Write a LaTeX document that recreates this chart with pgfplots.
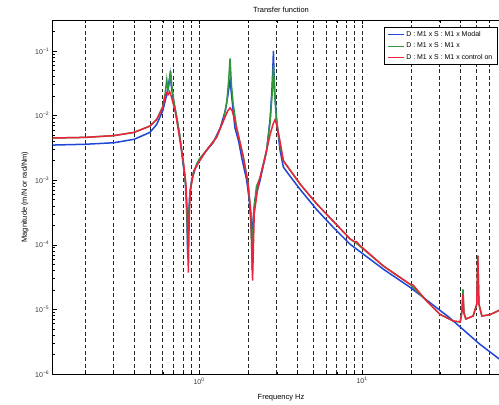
\documentclass[border=0pt]{standalone}
\usepackage{fontspec}
\setmainfont{Liberation Sans}
\usepackage{pgfplots}
\pgfplotsset{compat=1.18}
\definecolor{cblue}{RGB}{30,70,215}
\definecolor{cgreen}{RGB}{50,150,60}
\definecolor{cred}{RGB}{235,35,60}
\begin{document}
\begin{tikzpicture}
\path[use as bounding box] (-52.7bp,-31bp) rectangle (446.3bp,374bp);
\begin{loglogaxis}[
  at={(0,0)}, anchor=south west,
  scale only axis, width=456.6bp, height=354bp,
  xmin=0.1266, xmax=80, ymin=1e-6, ymax=0.302,
  xtick={1,10}, xticklabels={10\textsuperscript{0},10\textsuperscript{1}},
  minor xtick={0.2,0.3,0.4,0.5,0.6,0.7,0.8,0.9,2,3,4,5,6,7,8,9,20,30,40,50,60,70},
  ytick={1e-6,1e-5,1e-4,1e-3,1e-2,1e-1},
  yticklabels={10\textsuperscript{−6},10\textsuperscript{−5},10\textsuperscript{−4},10\textsuperscript{−3},10\textsuperscript{−2},10\textsuperscript{−1}},
  minor ytick={2e-6,3e-6,4e-6,5e-6,6e-6,7e-6,8e-6,9e-6,
               2e-5,3e-5,4e-5,5e-5,6e-5,7e-5,8e-5,9e-5,
               2e-4,3e-4,4e-4,5e-4,6e-4,7e-4,8e-4,9e-4,
               2e-3,3e-3,4e-3,5e-3,6e-3,7e-3,8e-3,9e-3,
               2e-2,3e-2,4e-2,5e-2,6e-2,7e-2,8e-2,9e-2,
               2e-1,3e-1},
  xmajorgrids, xminorgrids,
  major grid style={black!85, line width=0.8bp, dash pattern=on 3.8bp off 2.6bp},
  minor grid style={black!85, line width=0.8bp, dash pattern=on 3.8bp off 2.6bp},
  major tick length=4bp, minor tick length=2.5bp,
  tick style={black, line width=0.6bp},
  axis line style={line width=1bp},
  tick label style={font=\fontsize{7}{8}\selectfont, text=black!80},
  title={Transfer function},
  xlabel={Frequency Hz},
  ylabel={Magnitude (m/N or rad/Nm)},
  every axis title/.style={at={([yshift=10bp]axis description cs:0.5,1)}, anchor=center, font=\fontsize{7.5}{8}\selectfont},
  every axis x label/.style={at={([yshift=-24bp]axis description cs:0.5,0)}, anchor=center, font=\fontsize{7.5}{8}\selectfont},
  every axis y label/.style={at={([xshift=-27.7bp]axis description cs:0,0.5)}, rotate=90, anchor=center, font=\fontsize{7.5}{8}\selectfont},
  legend cell align=left,
  legend image code/.code={\draw[#1, line width=1.1bp] (0bp,0bp) -- (16bp,0bp);},
  legend style={at={(rel axis cs:0.9746,0.980)}, anchor=north east,
    font=\fontsize{7}{8}\selectfont, draw=black, line width=0.7bp,
    inner xsep=3bp, inner ysep=2bp, row sep=1bp},
]
\addplot[cblue, line width=1.5bp] coordinates {
(0.1266,3.5e-3)(0.2,3.6e-3)(0.3,3.8e-3)(0.4,4.3e-3)(0.5,5.5e-3)(0.55,7.3e-3)
(0.6,0.012)(0.63,0.02)(0.65,0.03)(0.665,0.044)(0.675,0.03)(0.69,0.02)(0.71,0.013)
(0.73,9.3e-3)(0.76,5e-3)(0.78,2.9e-3)(0.80,1.7e-3)(0.82,1.1e-3)(0.835,5e-4)
(0.845,2e-4)(0.852,7e-5)(0.86,2e-4)(0.875,5.5e-4)(0.90,1.0e-3)(0.97,1.8e-3)
(1.06,2.5e-3)(1.22,3.8e-3)(1.35,6.5e-3)(1.45,0.012)(1.50,0.02)(1.535,0.03)
(1.55,0.036)(1.565,0.028)(1.60,0.016)(1.66,6.5e-3)(1.75,4e-3)(1.83,2.2e-3)
(1.96,1.0e-3)(2.03,5e-4)(2.08,2.2e-4)(2.11,1.2e-4)(2.14,2.2e-4)(2.2,5e-4)
(2.37,1.0e-3)(2.6,2.9e-3)(2.73,9e-3)(2.80,0.025)(2.84,0.06)(2.86,0.1)(2.88,0.05)
(2.92,0.02)(3.0,8e-3)(3.14,2.9e-3)(3.29,1.6e-3)(3.6,1.17e-3)(4.17,7.2e-4)
(5.27,3.5e-4)(6.67,1.85e-4)(8.45,1.02e-4)(13.5,4.2e-5)(19.7,2.2e-5)(34.5,7.4e-6)
(52.7,2.9e-6)(80,1.3e-6)
};
\addlegendentry{D : M1 x S : M1 x Modal}
\addplot[cgreen, line width=1.5bp] coordinates {
(0.1266,4.5e-3)(0.2,4.6e-3)(0.3,4.9e-3)(0.4,5.5e-3)(0.5,6.9e-3)(0.55,8.7e-3)
(0.6,0.014)(0.62,0.022)(0.634,0.036)(0.645,0.025)(0.655,0.03)(0.67,0.049)
(0.68,0.03)(0.70,0.017)(0.73,0.0095)(0.76,5.2e-3)(0.80,1.9e-3)(0.83,8e-4)
(0.845,2.5e-4)(0.855,6e-5)(0.865,2.5e-4)(0.88,6.5e-4)(0.92,1.3e-3)(1.0,2.1e-3)
(1.11,2.9e-3)(1.28,4.6e-3)(1.41,8.3e-3)(1.48,0.016)(1.52,0.035)(1.55,0.077)
(1.58,0.03)(1.62,0.015)(1.70,6.5e-3)(1.87,2.3e-3)(2.0,9e-4)(2.08,3e-4)(2.12,4e-5)
(2.16,3e-4)(2.25,8e-4)(2.37,1.1e-3)(2.6,3e-3)(2.73,8e-3)(2.82,0.025)(2.86,0.06)
(2.9,0.025)(2.98,9e-3)(3.14,3.5e-3)(3.29,2.0e-3)(4.17,8.7e-4)(5.27,4.3e-4)
(8.45,1.23e-4)(9.26,1.05e-4)(13.5,4.7e-5)(19.7,2.45e-5)(24.9,1.35e-5)(30,8.4e-6)
(36.3,6.6e-6)(40,6.4e-6)(41,1e-5)(41.6,2.04e-5)(42.2,9e-6)(43.3,7.1e-6)(48,7.9e-6)
(50.5,1.2e-5)(51.3,6.8e-5)(52.1,1.2e-5)(54.3,7.9e-6)(61,8.3e-6)(71.3,1.0e-5)(80,1.05e-5)
};
\addlegendentry{D : M1 x S : M1 x}
\addplot[cred, line width=1.5bp] coordinates {
(0.1266,4.5e-3)(0.2,4.6e-3)(0.3,4.9e-3)(0.4,5.5e-3)(0.5,6.9e-3)(0.55,8.7e-3)
(0.6,0.0132)(0.62,0.0204)(0.635,0.0225)(0.645,0.021)(0.66,0.0235)(0.675,0.02)
(0.713,0.012)(0.765,4.1e-3)(0.80,2.0e-3)(0.83,9e-4)(0.85,2.5e-4)(0.86,3.7e-5)
(0.87,2.5e-4)(0.885,7e-4)(0.93,1.4e-3)(1.01,2.0e-3)(1.11,2.9e-3)(1.28,4.6e-3)
(1.41,8.3e-3)(1.50,0.0118)(1.55,0.0132)(1.60,0.0118)(1.70,6.5e-3)(1.87,2.24e-3)
(2.0,8.7e-4)(2.08,3e-4)(2.13,2.8e-5)(2.18,3e-4)(2.31,8.7e-4)(2.54,2.24e-3)
(2.73,5.1e-3)(2.85,7.5e-3)(2.93,8.7e-3)(3.0,7e-3)(3.14,4e-3)(3.29,2.0e-3)
(4.17,8.7e-4)(5.27,4.3e-4)(8.45,1.23e-4)(9.0,1.12e-4)(9.26,1.12e-4)(9.6,1.0e-4)
(13.5,4.7e-5)(19.7,2.45e-5)(20.5,2.4e-5)(24.9,1.35e-5)(30,8.4e-6)(36.3,6.6e-6)
(40,6.4e-6)(41,9e-6)(41.6,1.7e-5)(42.2,8.5e-6)(43.3,7.1e-6)(48,7.9e-6)(50.5,1.2e-5)
(51.3,6.8e-5)(52.1,1.2e-5)(54.3,7.9e-6)(61,8.3e-6)(71.3,1.0e-5)(80,1.05e-5)
};
\addlegendentry{D : M1 x S : M1 x control on}
\end{loglogaxis}
\end{tikzpicture}
\end{document}
